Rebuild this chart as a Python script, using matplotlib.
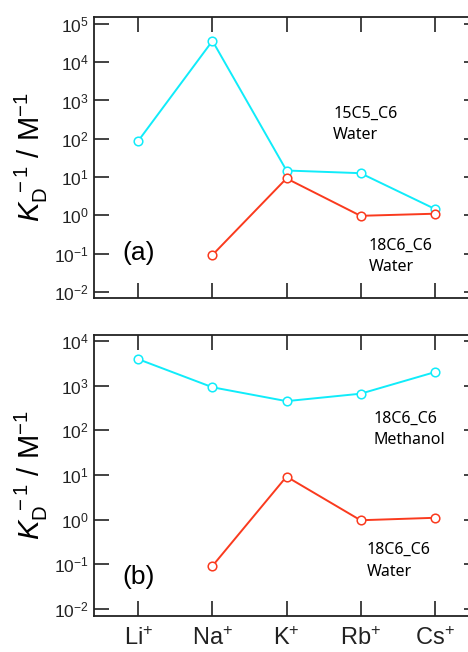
import numpy as np
import matplotlib
matplotlib.use("Agg")
import matplotlib.pyplot as plt

plt.rcParams['font.family'] = ['Liberation Sans', 'DejaVu Sans']
plt.rcParams['mathtext.fontset'] = 'custom'
plt.rcParams['mathtext.rm'] = 'Liberation Sans'
plt.rcParams['mathtext.it'] = 'Liberation Sans:italic'

# data ------------------------------------------------------------
ions = ['Li$^{+}$', 'Na$^{+}$', 'K$^{+}$', 'Rb$^{+}$', 'Cs$^{+}$']
c15c5_water = [89, 36000, 14.8, 12.6, 1.48]
c18c6_water = [np.nan, 0.092, 9.2, 0.97, 1.1]
c18c6_methanol = [3900, 920, 450, 660, 2000]

top_decades = [-2, -1, 0, 1, 2, 3, 4, 5]
bot_decades = [-2, -1, 0, 1, 2, 3, 4]

cyan = '#10ecfa'
red = '#fa3a1e'
note_font = ['Noto Sans', 'DejaVu Sans']

fig = plt.figure(figsize=(4.68, 6.52), dpi=100)
W, H = 468, 652


def make_ax(top_px, bottom_px):
    # axes runs past the right edge of the figure like in the original
    return fig.add_axes([94 / W, 1 - bottom_px / H, 385 / W, (bottom_px - top_px) / H])


def style(ax, decades, ylim):
    x = np.arange(len(ions))
    ax.set_yscale('log')
    ax.set_xlim(-0.6, 4.6)
    ax.set_ylim(*ylim)
    ax.set_xticks(x)
    ax.set_yticks([10.0 ** d for d in decades])
    ax.set_yticklabels([r'$\mathregular{10^{%d}}$' % d for d in decades], fontsize=12.5)
    ax.yaxis.set_minor_locator(matplotlib.ticker.NullLocator())
    ax.tick_params(direction='in', length=11, width=1.2, top=True, right=True,
                   colors='#222222', pad=4)
    for s in ax.spines.values():
        s.set_linewidth(1.3)
        s.set_color('#222222')
    ax.set_ylabel(r'$K_\mathregular{D}^{\;-1}$ / M$^{-1}$', fontsize=21)
    ax.yaxis.set_label_coords(-0.115, 0.5)


def series(ax, vals, col):
    x = np.arange(len(ions))
    ax.plot(x, vals, '-o', color=col, lw=1.4, ms=6.2, mfc='white', mec=col, mew=1.1)


# (a) -------------------------------------------------------------
ax1 = make_ax(17, 298)
series(ax1, c15c5_water, cyan)
series(ax1, c18c6_water, red)
style(ax1, top_decades, (10 ** -2.16, 10 ** 5.18))
ax1.set_xticklabels([])
ax1.text(0.073, 0.16, '(a)', transform=ax1.transAxes, fontsize=19, va='center')
ax1.text(0.621, 0.617, '15C5_C6\nWater', transform=ax1.transAxes, fontsize=11.5,
         va='center', family=note_font, linespacing=1.45)
ax1.text(0.714, 0.148, '18C6_C6\nWater', transform=ax1.transAxes, fontsize=11.5,
         va='center', family=note_font, linespacing=1.45)

# (b) -------------------------------------------------------------
ax2 = make_ax(335, 616)
series(ax2, c18c6_methanol, cyan)
series(ax2, c18c6_water, red)
style(ax2, bot_decades, (10 ** -2.157, 10 ** 4.134))
ax2.set_xticklabels(ions, fontsize=17)
ax2.tick_params(axis='x', pad=8)
ax2.text(0.073, 0.139, '(b)', transform=ax2.transAxes, fontsize=19, va='center')
ax2.text(0.727, 0.664, '18C6_C6\nMethanol', transform=ax2.transAxes, fontsize=11.5,
         va='center', family=note_font, linespacing=1.45)
ax2.text(0.709, 0.196, '18C6_C6\nWater', transform=ax2.transAxes, fontsize=11.5,
         va='center', family=note_font, linespacing=1.45)

fig.savefig('out.png', dpi=100)
